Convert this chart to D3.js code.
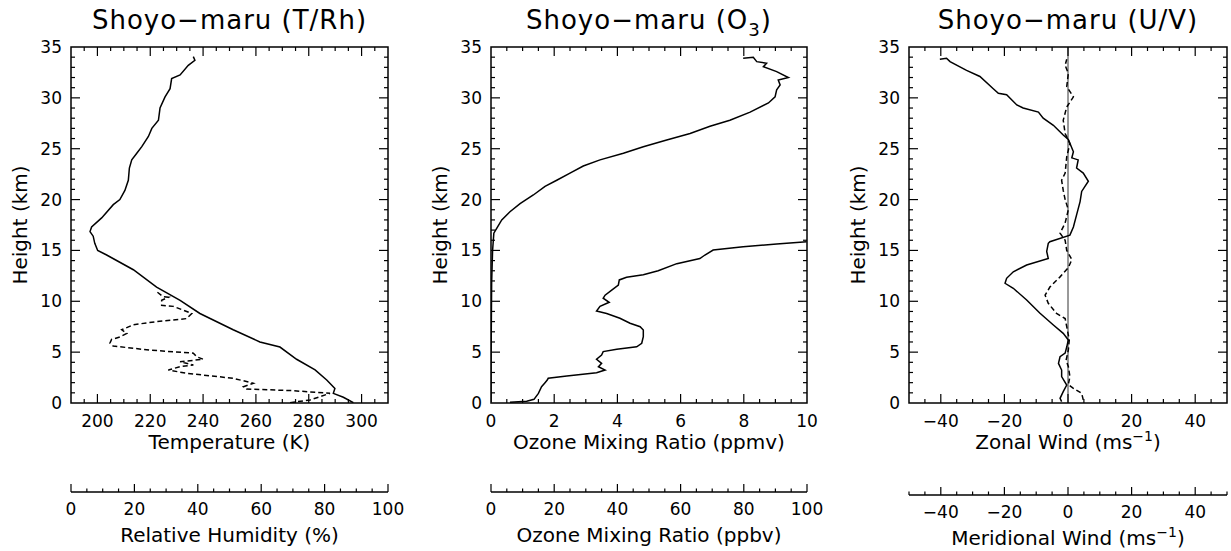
<!DOCTYPE html>
<html>
<head>
<meta charset="utf-8">
<script src="https://cdn.jsdelivr.net/npm/d3@7"></script>
<style>
  body { margin: 0; background: #fff; }
  svg { display: block; }
  text { font-family: "DejaVu Sans", sans-serif; fill: #000; }
</style>
</head>
<body>
<div id="chart"></div>
<script>
// height (km) vs temperature (K), solid
let tempProfile = [
  [0.03, 296.9], [0.56, 293.1], [0.95, 289.3], [1.44, 289.9], [2.26, 286.8], [3.25, 282.4],
  [4.3, 275.4], [5.5, 269.1], [6.0, 261.5], [7.2, 251.4], [8.8, 238.8], [10.1, 231.3],
  [11.4, 222.4], [13.1, 213.6], [14.55, 203.5], [15.0, 200.1], [15.7, 199.0], [16.4, 198.4],
  [16.85, 197.2], [17.3, 197.8], [18.2, 201.6], [19.5, 206.0], [20.0, 208.5], [20.9, 210.4],
  [21.9, 211.7], [23.1, 212.1], [23.9, 213.0], [24.55, 214.9], [25.2, 216.8], [26.2, 219.3],
  [27.0, 220.6], [27.8, 223.1], [29.0, 223.7], [30.1, 225.6], [30.9, 227.5], [31.9, 228.1],
  [32.25, 231.3], [33.2, 234.4], [33.7, 236.9], [34.05, 236.3]
];

// height (km) vs relative humidity (%), dashed
let rhProfile = [
  [0.03, 69.1], [0.3, 75.4], [0.62, 78.5], [0.95, 81.7], [1.21, 70.1], [1.38, 55.4],
  [1.6, 54.4], [1.94, 57.5], [2.43, 51.2], [2.92, 36.5], [3.24, 30.7], [3.57, 34.4],
  [3.74, 38.6], [4.06, 34.4], [4.3, 41.7], [4.55, 39.6], [4.9, 38.6], [5.2, 24.9],
  [5.6, 13.3], [5.9, 12.3], [6.25, 12.8], [6.5, 15.5], [6.85, 17.6], [7.2, 16.0],
  [7.7, 19.7], [8.0, 27.0], [8.3, 36.5], [8.8, 38.1], [9.5, 32.3], [9.6, 28.6],
  [10.1, 28.6], [10.4, 30.7], [10.45, 29.1], [10.95, 27.0]
];

// height (km) vs ozone (ppmv)
let ozonePpmv = [
  [0.1, 0.0], [3.6, 0.0], [11.8, 0.02], [15.0, 0.05], [16.7, 0.09], [17.18, 0.18],
  [18.0, 0.34], [18.8, 0.6], [19.6, 0.92], [20.45, 1.34], [21.3, 1.71], [21.9, 2.08],
  [22.6, 2.5], [23.3, 2.92], [23.9, 3.45], [24.55, 4.19], [25.2, 4.82], [25.86, 5.56],
  [26.5, 6.3], [27.2, 6.93], [27.8, 7.56], [28.6, 8.2], [29.5, 8.78], [30.1, 8.99],
  [30.78, 9.04], [31.27, 9.15], [31.76, 9.09], [32.0, 9.41], [32.58, 9.04], [33.07, 8.62],
  [33.4, 8.72], [33.56, 8.41], [33.98, 8.3], [33.9, 7.98]
];

// height (km) vs ozone (ppbv)
let ozonePpbv = [
  [0.07, 6.0], [0.17, 11.3], [0.36, 13.6], [0.95, 15.0], [1.6, 16.0], [2.0, 17.1],
  [2.26, 17.8], [2.43, 18.1], [2.65, 24.0], [2.98, 33.4], [3.24, 36.1], [3.57, 34.0],
  [3.9, 35.0], [4.3, 33.4], [4.72, 35.0], [5.05, 35.5], [5.28, 39.8], [5.53, 46.1],
  [5.87, 47.7], [6.52, 48.2], [7.18, 48.2], [7.5, 47.2], [7.84, 44.0], [8.33, 40.8],
  [8.8, 36.6], [9.05, 33.4], [9.5, 34.5], [9.9, 37.4], [10.3, 35.5], [10.6, 36.1],
  [11.1, 38.2], [11.6, 40.3], [12.1, 40.6], [12.36, 42.9], [12.6, 48.2], [13.0, 52.9],
  [13.7, 58.8], [14.2, 66.1], [14.55, 67.7], [15.04, 70.3], [15.37, 79.8], [15.63, 90.4],
  [15.86, 99.9]
];

// height (km) vs zonal wind (m/s), solid
let zonalWind = [
  [0.13, -2.0], [0.46, -2.5], [1.11, -1.5], [1.77, -0.4], [2.59, -2.0], [3.24, -2.0],
  [3.9, -3.0], [4.55, -2.5], [4.9, -0.9], [5.5, -0.4], [6.2, 0.1], [6.85, -1.5],
  [7.67, -4.6], [8.82, -8.8], [10.13, -13.0], [11.28, -17.2], [11.77, -19.8], [12.26, -19.3],
  [12.9, -17.2], [13.57, -13.0], [14.2, -6.2], [14.9, -6.7], [15.7, -6.2], [15.86, -5.7],
  [16.5, 0.6], [17.3, 1.7], [18.5, 2.7], [19.8, 3.8], [20.8, 4.3], [21.8, 6.4],
  [22.6, 4.8], [23.1, 2.7], [23.9, 3.2], [24.1, 1.2], [24.7, 1.7], [25.9, 0.1],
  [26.35, -1.5], [27.3, -4.6], [28.0, -7.8], [28.6, -9.3], [29.0, -14.1], [29.3, -16.1],
  [30.3, -19.3], [30.45, -21.9], [30.9, -23.5], [32.1, -27.7], [32.7, -31.9], [33.56, -37.1],
  [33.9, -38.2], [33.8, -40.3]
];

// height (km) vs meridional wind (m/s), dashed
let meridionalWind = [
  [0.3, 4.8], [0.95, 4.3], [1.44, 1.7], [1.8, 0.1], [2.6, 0.6], [3.6, 0.1],
  [4.2, -0.6], [5.2, 0.1], [6.2, 0.4], [7.5, -0.4], [8.3, -0.9], [8.8, -3.6],
  [9.8, -6.2], [10.6, -7.2], [11.4, -5.7], [12.4, -2.5], [13.3, 0.1], [14.1, 1.2],
  [15.0, -0.4], [16.0, -0.9], [16.7, -2.5], [17.7, -0.9], [19.0, 0.1], [20.0, -0.9],
  [20.9, -1.5], [21.9, -2.0], [22.6, -0.9], [24.2, -0.4], [25.5, 0.6], [26.5, -0.9],
  [27.8, -1.5], [29.1, -0.4], [30.1, 1.7], [31.1, -0.4], [32.4, 0.1], [33.2, -0.9],
  [33.8, -0.4]
];

let heightTicks = d3.range(0, 36, 5);

let width = 1231, height = 551;
let plotTop = 47, plotBottom = 403;

let svg = d3.select('#chart').append('svg')
  .attr('width', width)
  .attr('height', height);

let yScale = d3.scaleLinear().domain([0, 35]).range([plotBottom, plotTop]);

let panels = [
  {
    title: ['Shoyo\u2212maru (T/Rh)'],
    left: 71, right: 388,
    xDomain: [190, 310], xMajor: 20, xMinor: 5, xStart: 200,
    xLabel: ['Temperature (K)'],
    x2Domain: [0, 100], x2Major: 20, x2Minor: 5, x2Y: 492,
    x2Label: ['Relative Humidity (%)'],
    lines: [
      { data: tempProfile, axis: 1 },
      { data: rhProfile, axis: 2, dash: '5,3' }
    ]
  },
  {
    title: ['Shoyo\u2212maru (O', '3', ')'],
    left: 491, right: 807,
    xDomain: [0, 10], xMajor: 2, xMinor: 0.5, xStart: 0,
    xLabel: ['Ozone Mixing Ratio (ppmv)'],
    x2Domain: [0, 100], x2Major: 20, x2Minor: 5, x2Y: 492,
    x2Label: ['Ozone Mixing Ratio (ppbv)'],
    lines: [
      { data: ozonePpmv, axis: 1 },
      { data: ozonePpbv, axis: 2 }
    ]
  },
  {
    title: ['Shoyo\u2212maru (U/V)'],
    left: 909, right: 1227,
    xDomain: [-50, 50], xMajor: 20, xMinor: 5, xStart: -40,
    xLabel: ['Zonal Wind (ms', '\u22121', ')'],
    x2Domain: [-50, 50], x2Major: 20, x2Minor: 5, x2Y: 495,
    x2Label: ['Meridional Wind (ms', '\u22121', ')'],
    zeroLine: true,
    lines: [
      { data: zonalWind, axis: 1 },
      { data: meridionalWind, axis: 2, dash: '5,3' }
    ]
  }
];

const fmt = v => String(v).replace('-', '\u2212');

function addRichText(sel, parts, size) {
  // parts: [normal, script, normal] -- script is sub for titles, sup for units
  sel.append('tspan').text(parts[0]);
  if (parts.length > 1) {
    let isSup = parts[1].indexOf('\u2212') === 0;
    sel.append('tspan')
      .attr('font-size', size * 0.7)
      .attr('dy', isSup ? -size * 0.4 : size * 0.25)
      .text(parts[1]);
    sel.append('tspan')
      .attr('dy', isSup ? size * 0.4 : -size * 0.25)
      .text(parts[2]);
  }
}

function ticksFor(domain, step) {
  let out = [];
  for (let v = Math.ceil(domain[0] / step) * step; v <= domain[1] + 1e-9; v += step) out.push(+v.toFixed(6));
  return out;
}

panels.forEach(function (p, i) {
  let g = svg.append('g');
  let xScale = d3.scaleLinear().domain(p.xDomain).range([p.left, p.right]);
  let x2Scale = d3.scaleLinear().domain(p.x2Domain).range([p.left, p.right]);
  let cx = (p.left + p.right) / 2;

  // clip to plot box
  g.append('clipPath').attr('id', 'clip' + i)
    .append('rect')
    .attr('x', p.left).attr('y', plotTop)
    .attr('width', p.right - p.left).attr('height', plotBottom - plotTop);

  // Title
  let title = g.append('text')
    .attr('x', cx).attr('y', 29)
    .attr('text-anchor', 'middle')
    .attr('font-size', 26)
    .attr('letter-spacing', 1);
  addRichText(title, p.title, 26);

  // zero line for wind
  if (p.zeroLine) {
    g.append('line')
      .attr('x1', xScale(0)).attr('x2', xScale(0))
      .attr('y1', plotTop).attr('y2', plotBottom)
      .attr('stroke', '#000').attr('stroke-width', 0.8);
  }

  // profiles
  p.lines.forEach(function (ln) {
    let sc = ln.axis === 1 ? xScale : x2Scale;
    let line = d3.line()
      .x(d => sc(d[1]))
      .y(d => yScale(d[0]));
    g.append('path')
      .datum(ln.data)
      .attr('clip-path', 'url(#clip' + i + ')')
      .attr('d', line)
      .attr('fill', 'none')
      .attr('stroke', '#000')
      .attr('stroke-width', 1.5)
      .attr('stroke-dasharray', ln.dash || null);
  });

  // frame
  g.append('rect')
    .attr('x', p.left).attr('y', plotTop)
    .attr('width', p.right - p.left).attr('height', plotBottom - plotTop)
    .attr('fill', 'none').attr('stroke', '#000').attr('stroke-width', 1.5);

  // y ticks (both sides, inward)
  d3.range(1, 35, 1).forEach(function (v) {
    let len = v % 5 === 0 ? 9 : 4;
    g.append('line').attr('x1', p.left).attr('x2', p.left + len)
      .attr('y1', yScale(v)).attr('y2', yScale(v))
      .attr('stroke', '#000').attr('stroke-width', 1.2);
    g.append('line').attr('x1', p.right).attr('x2', p.right - len)
      .attr('y1', yScale(v)).attr('y2', yScale(v))
      .attr('stroke', '#000').attr('stroke-width', 1.2);
  });
  g.selectAll('.ylab')
    .data(heightTicks)
    .enter().append('text')
    .attr('x', p.left - 9)
    .attr('y', d => yScale(d) + 6)
    .attr('text-anchor', 'end')
    .attr('font-size', 17)
    .text(d => d);

  g.append('text')
    .attr('transform', `translate(${p.left - 44},${(plotTop + plotBottom) / 2}) rotate(-90)`)
    .attr('text-anchor', 'middle')
    .attr('font-size', 20)
    .text('Height (km)');

  // x ticks top and bottom, inward
  const isMajorX = v => Math.abs(((v - p.xStart) / p.xMajor) - Math.round((v - p.xStart) / p.xMajor)) < 1e-6;
  let xMinorTicks = ticksFor(p.xDomain, p.xMinor);
  xMinorTicks.forEach(function (v) {
    if (v <= p.xDomain[0] || v >= p.xDomain[1]) return;
    let len = isMajorX(v) ? 9 : 4;
    g.append('line').attr('x1', xScale(v)).attr('x2', xScale(v))
      .attr('y1', plotBottom).attr('y2', plotBottom - len)
      .attr('stroke', '#000').attr('stroke-width', 1.2);
    g.append('line').attr('x1', xScale(v)).attr('x2', xScale(v))
      .attr('y1', plotTop).attr('y2', plotTop + len)
      .attr('stroke', '#000').attr('stroke-width', 1.2);
  });
  g.selectAll('.xlab')
    .data(xMinorTicks.filter(isMajorX))
    .enter().append('text')
    .attr('x', d => xScale(d))
    .attr('y', 427)
    .attr('text-anchor', 'middle')
    .attr('font-size', 17)
    .text(d => fmt(d));

  let xl = g.append('text')
    .attr('x', cx).attr('y', 449)
    .attr('text-anchor', 'middle')
    .attr('font-size', 20);
  addRichText(xl, p.xLabel, 20);

  // secondary axis
  g.append('line')
    .attr('x1', p.left).attr('x2', p.right)
    .attr('y1', p.x2Y).attr('y2', p.x2Y)
    .attr('stroke', '#000').attr('stroke-width', 1.5);
  let x2Ticks = ticksFor(p.x2Domain, p.x2Minor);
  x2Ticks.forEach(function (v) {
    let isMajor = Math.abs(v % p.x2Major) < 1e-6;
    g.append('line').attr('x1', x2Scale(v)).attr('x2', x2Scale(v))
      .attr('y1', p.x2Y).attr('y2', p.x2Y - (isMajor ? 8 : 3.5))
      .attr('stroke', '#000').attr('stroke-width', 1.2);
  });
  g.selectAll('.x2lab')
    .data(x2Ticks.filter(v => Math.abs(v % p.x2Major) < 1e-6))
    .enter().append('text')
    .attr('x', d => x2Scale(d))
    .attr('y', p.x2Y + 23)
    .attr('text-anchor', 'middle')
    .attr('font-size', 17)
    .text(d => fmt(d));

  let x2l = g.append('text')
    .attr('x', cx).attr('y', p.x2Y + 50)
    .attr('text-anchor', 'middle')
    .attr('font-size', 20);
  addRichText(x2l, p.x2Label, 20);
});
</script>
</body>
</html>
